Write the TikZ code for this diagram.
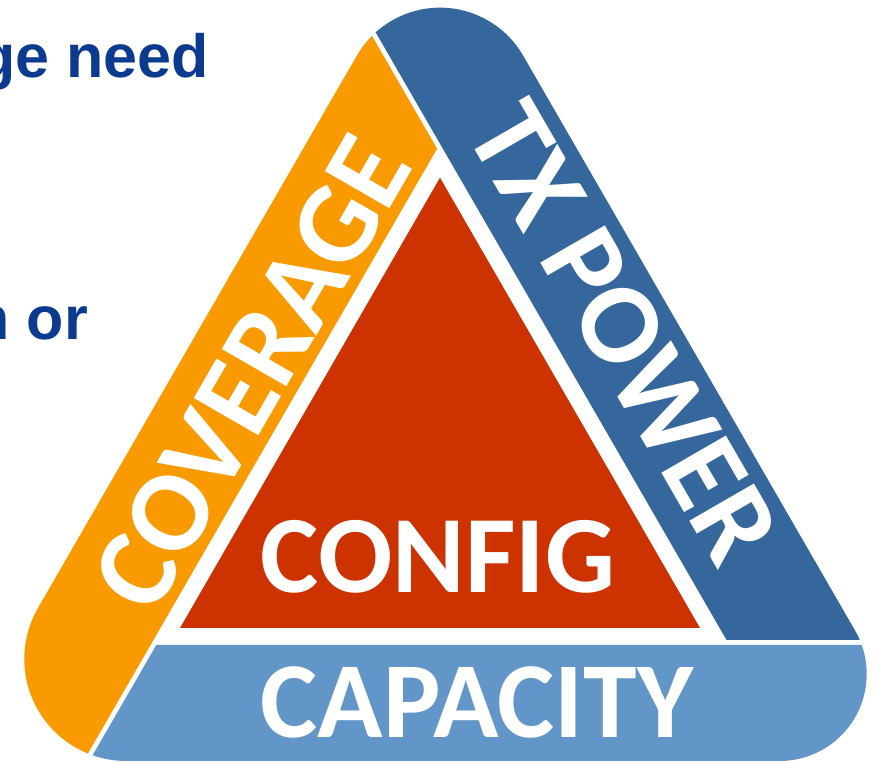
\documentclass[tikz,border=0pt]{standalone}
\usepackage{fontspec}
\newfontfamily\bandfont{Carlito}
\newfontfamily\headfont{Liberation Sans}
\definecolor{coverorange}{HTML}{F89A00}
\definecolor{powerblue}{HTML}{35679D}
\definecolor{capblue}{HTML}{6396C8}
\definecolor{configred}{HTML}{CC3300}
\definecolor{headblue}{HTML}{0B3A8E}
\tikzset{
  bandtext/.style={text=white, inner sep=0pt,
    font=\bandfont\bfseries\fontsize{#1}{#1}\selectfont},
  headtext/.style={text=headblue, inner sep=0pt,
    font=\headfont\bfseries\fontsize{61}{61}\selectfont},
}
\begin{document}
\begin{tikzpicture}[x=1pt,y=1pt]
\useasboundingbox (0,0) rectangle (879,763);
\clip (0,0) rectangle (879,763);
\fill[white] (0,0) rectangle (879,763);

% outer rounded triangle, split into three pinwheel bands
\begin{scope}
  \clip (37.97,155) -- (356.86,707.34)
        arc[start angle=150, end angle=30, radius=96]
        -- (855.02,132.5)
        arc[start angle=30, end angle=-90, radius=87]
        -- (126.30,2)
        arc[start angle=270, end angle=150, radius=102] -- cycle;
  % left band
  \fill[coverorange] (44.9,-65) -- (437.1,614.3) -- (272.2,900)
        -- (-200,900) -- (-200,-65) -- cycle;
  % right band
  \fill[powerblue] (726.56,123) -- (277.9,900) -- (1100,900)
        -- (1100,123) -- cycle;
  % bottom band
  \fill[capblue] (156.33,118) -- (30.4,-100) -- (1100,-100)
        -- (1100,118) -- cycle;
\end{scope}

% inner triangle
\fill[configred] (180,135) -- (700,135) -- (440,585.3) -- cycle;

% labels
\node[bandtext=110, anchor=base] (config) at (438,170) {CONFIG};
\node[bandtext=108, anchor=base] (capacity) at (477,25) {CAPACITY};
\node[bandtext=115, rotate=60] (coverage) at (252,390) {COVERAGE};
\node[bandtext=115, rotate=-60] (txpower) at (624,430) {TX POWER};

% heading text
\node[headtext, anchor=base east] (line1) at (209,685) {ge need};
\node[headtext, anchor=base east] (line2) at (88,423) {n or};
\end{tikzpicture}
\end{document}
